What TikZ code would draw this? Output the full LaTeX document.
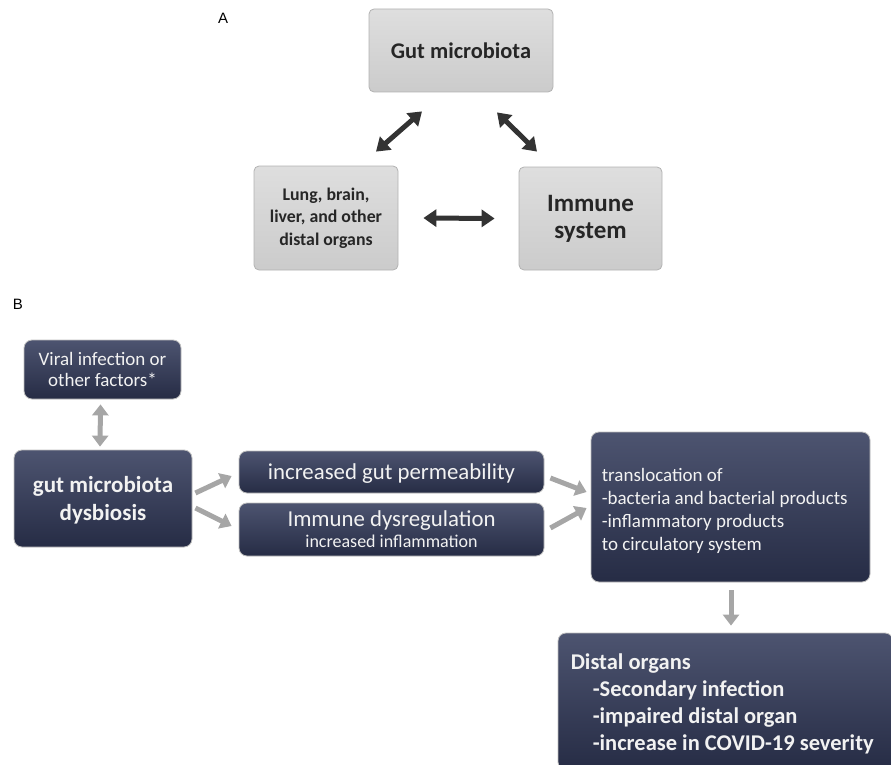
\documentclass[tikz,border=0pt]{standalone}
\usepackage{fontspec}
\setmainfont{Carlito}
\newfontfamily\labfont{Liberation Sans}
\usetikzlibrary{arrows.meta,calc,shadings}
\definecolor{navytop}{HTML}{4D5470}
\definecolor{navybot}{HTML}{262C45}
\definecolor{graybox}{HTML}{D6D6D6}
\definecolor{grayarr}{HTML}{A6A6A6}
\definecolor{darkarr}{HTML}{333333}
\definecolor{txtw}{HTML}{F2F2F2}
\tikzset{
  lightbox/.style={draw=white!70!black, line width=0.8pt, top color=graybox!80!white, bottom color=graybox!95!black, rounded corners=5pt, align=center, text=black!85, font=\bfseries, inner sep=2pt},
  navybox/.style={draw=white!75!black, line width=0.8pt, top color=navytop, bottom color=navybot, rounded corners=8pt, text=txtw, inner sep=4pt},
  darkarrow/.style={darkarr, line width=5pt, {Triangle[length=13pt,width=17pt]}-{Triangle[length=13pt,width=17pt]}},
  grayarrow/.style={grayarr, line width=5pt, -{Triangle[length=11pt,width=16pt]}},
  graydbl/.style={grayarr, line width=5pt, {Triangle[length=11pt,width=16pt]}-{Triangle[length=11pt,width=16pt]}},
}
\begin{document}
\begin{tikzpicture}[x=1pt,y=-1pt]
\useasboundingbox (0,0) rectangle (891,765);
\begin{scope}
\clip (0,0) rectangle (891,765);
% labels
\node[font=\labfont\fontsize{15}{18}\selectfont] (la) at (223,18) {A};
\node[font=\labfont\fontsize{15}{18}\selectfont] (lb) at (18,304) {B};
% part A
\node[lightbox, minimum width=184pt, minimum height=83pt, font=\bfseries\fontsize{22.4}{26}\selectfont] (gut) at (461,50.5) {Gut microbiota};
\node[lightbox, minimum width=144pt, minimum height=104pt, font=\bfseries\fontsize{17.8}{22.5}\selectfont] (lung) at (326,218) {Lung, brain,\\liver, and other\\distal organs};
\node[lightbox, minimum width=143pt, minimum height=103pt, font=\bfseries\fontsize{25}{27}\selectfont] (imm) at (590.5,218.5) {Immune\\system};
\draw[darkarrow] ($(lung.north)+(50,-14)$) -- ($(gut.south)+(-39,19)$);
\draw[darkarrow] ($(gut.south)+(36,20)$) -- ($(imm.north)+(-53.5,-15)$);
\draw[darkarrow] ($(lung.east)+(25,0)$) -- ($(imm.west)+(-24,0)$);
% part B
\node[navybox, minimum width=157pt, minimum height=59pt, align=center, font=\fontsize{19}{21}\selectfont, text depth=-6pt] (viral) at (102.5,369.5) {Viral infection or\\other factors*};
\node[navybox, minimum width=178pt, minimum height=97pt, align=center, font=\bfseries\fontsize{23}{28}\selectfont, text depth=-3.5pt] (dys) at (103,498.5) {gut microbiota\\dysbiosis};
\node[navybox, minimum width=305pt, minimum height=42pt, font=\fontsize{22.8}{24}\selectfont, text depth=-3pt] (perm) at (391.5,472) {increased gut permeability};
\node[navybox, minimum width=305pt, minimum height=53pt, align=center, font=\fontsize{22.8}{22}\selectfont] (immd) at (391.5,529.5) {Immune dysregulation\\[-1pt]{\fontsize{18}{18}\selectfont increased inflammation}};
\node[navybox, minimum width=279pt, minimum height=150pt] (transl) at (730.5,507) {};
\node[anchor=north west, text=txtw, align=left, inner sep=0pt, font=\fontsize{19}{23}\selectfont] (transltxt) at ($(transl.north west)+(11,37)$) {translocation of\\-bacteria and bacterial products\\-inflammatory products\\to circulatory system};
\node[navybox, minimum width=335pt, minimum height=137pt] (distal) at (725.5,701.5) {};
\node[anchor=north west, text=txtw, align=left, inner sep=0pt, font=\bfseries\fontsize{22.5}{27}\selectfont] (distaltxt) at ($(distal.north west)+(13,21)$) {Distal organs\\\hspace*{22pt}-Secondary infection\\\hspace*{22pt}-impaired distal organ\\\hspace*{22pt}-increase in COVID-19 severity};
\draw[graydbl] ($(viral.south)+(-2,5)$) -- ($(dys.north)+(-3,-3)$);
\draw[grayarrow] ($(dys.east)+(3,-5.5)$) -- ($(perm.west)+(-7,4)$);
\draw[grayarrow] ($(dys.east)+(3,9.5)$) -- ($(immd.west)+(-7,-3.5)$);
\draw[grayarrow] ($(perm.east)+(6,6)$) -- ($(transl.west)+(-4,-15)$);
\draw[grayarrow] ($(immd.east)+(6,-1.5)$) -- ($(transl.west)+(-4,1)$);
\draw[grayarrow] ($(transl.south)+(0.5,8)$) -- ($(distal.north)+(5.5,-7)$);
\end{scope}
\end{tikzpicture}
\end{document}
